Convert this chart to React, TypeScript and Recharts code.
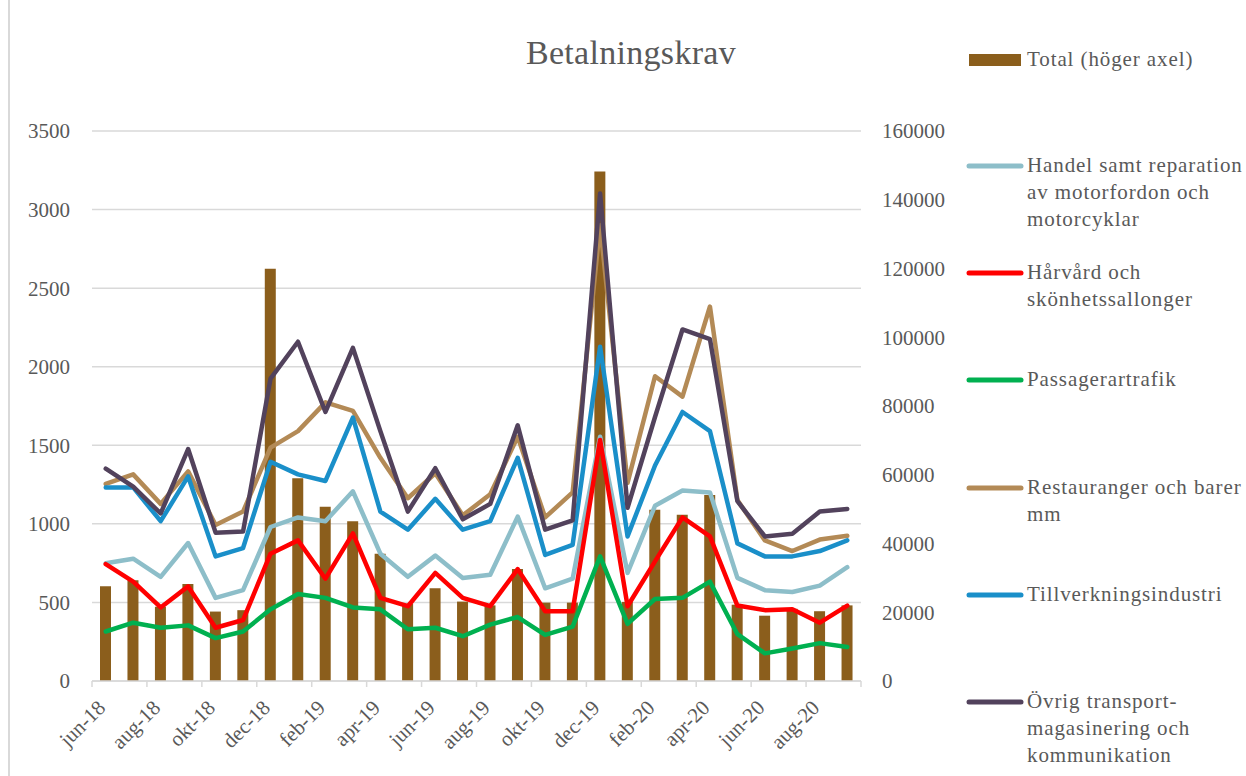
import React from "react";
import { ComposedChart, Bar, Line, XAxis, YAxis, CartesianGrid } from "recharts";

const months = ["jun-18","jul-18","aug-18","sep-18","okt-18","nov-18","dec-18","jan-19","feb-19","mar-19","apr-19","maj-19","jun-19","jul-19","aug-19","sep-19","okt-19","nov-19","dec-19","jan-20","feb-20","mar-20","apr-20","maj-20","jun-20","jul-20","aug-20","sep-20"];

const total = [27600, 29300, 21600, 28200, 20200, 20600, 119900, 59000, 50700, 46500, 37000, 22500, 27000, 23100, 22000, 32600, 22800, 22800, 148200, 23000, 49800, 48400, 54100, 22200, 19000, 21000, 20300, 22000];
const handel = [749, 778, 663, 878, 529, 578, 980, 1041, 1017, 1207, 810, 663, 798, 656, 676, 1046, 590, 651, 1554, 688, 1115, 1212, 1200, 656, 578, 566, 607, 724];
const harvard = [744, 632, 468, 602, 339, 388, 810, 895, 651, 939, 529, 476, 688, 529, 476, 712, 444, 444, 1534, 476, 761, 1041, 920, 480, 451, 456, 371, 480];
const passager = [315, 371, 339, 354, 273, 315, 456, 554, 529, 468, 456, 329, 339, 285, 359, 407, 293, 346, 793, 363, 522, 529, 632, 298, 176, 207, 241, 217];
const restaurang = [1254, 1315, 1127, 1334, 993, 1078, 1485, 1590, 1773, 1719, 1420, 1163, 1322, 1054, 1188, 1554, 1041, 1200, 2900, 1261, 1939, 1810, 2383, 1151, 895, 827, 900, 924];
const tillverkning = [1232, 1232, 1017, 1302, 793, 846, 1395, 1315, 1273, 1676, 1078, 963, 1159, 963, 1017, 1420, 802, 866, 2127, 920, 1371, 1712, 1590, 876, 793, 793, 827, 895];
const ovrig = [1351, 1237, 1066, 1476, 944, 951, 1924, 2159, 1712, 2120, 1590, 1078, 1354, 1029, 1127, 1627, 963, 1022, 3103, 1102, 1680, 2237, 2176, 1144, 920, 937, 1078, 1095];

const leftTicks = [0, 500, 1000, 1500, 2000, 2500, 3000, 3500];
const rightTicks = [0, 20000, 40000, 60000, 80000, 100000, 120000, 140000, 160000];

const title = "Betalningskrav";

const barSeries = { key: "total", name: "Total (höger axel)", color: "#8b5e1c", lines: ["Total (höger axel)"] };
const lineSeries = [
  { key: "handel", name: "Handel samt reparation av motorfordon och motorcyklar", color: "#8dbec9", lines: ["Handel samt reparation", "av motorfordon och", "motorcyklar"] },
  { key: "harvard", name: "Hårvård och skönhetssallonger", color: "#ff0000", lines: ["Hårvård och", "skönhetssallonger"] },
  { key: "passager", name: "Passagerartrafik", color: "#00b050", lines: ["Passagerartrafik"] },
  { key: "restaurang", name: "Restauranger och barer mm", color: "#b38a56", lines: ["Restauranger och barer", "mm"] },
  { key: "tillverkning", name: "Tillverkningsindustri", color: "#1a8fc9", lines: ["Tillverkningsindustri"] },
  { key: "ovrig", name: "Övrig transport-magasinering och kommunikation", color: "#52425c", lines: ["Övrig transport-", "magasinering och", "kommunikation"] },
];

const data = months.map((m, i) => ({
  month: m,
  total: total[i],
  handel: handel[i],
  harvard: harvard[i],
  passager: passager[i],
  restaurang: restaurang[i],
  tillverkning: tillverkning[i],
  ovrig: ovrig[i],
}));

const W = 1246;
const H = 776;
const PLOT_LEFT = 92;
const PLOT_RIGHT = 861;
const PLOT_TOP = 131;
const PLOT_BOTTOM = 681;
const RIGHT_AXIS_W = 100;
const FONT = "'Liberation Serif', 'DejaVu Serif', serif";
const TEXT = "#595959";
const GRID = "#d9d9d9";

const XTick = (props: any) => {
  const { x, index, payload } = props;
  const bw = (PLOT_RIGHT - PLOT_LEFT) / months.length;
  const y0 = PLOT_BOTTOM;
  const els: any[] = [];
  if (index % 2 === 0) {
    const lx = x - bw / 2;
    els.push(<line key="t" x1={lx} x2={lx} y1={y0} y2={y0 + 6} stroke={GRID} strokeWidth={1.5} />);
    const tx = x - 4;
    const ty = y0 + 23;
    els.push(
      <text key="l" x={tx} y={ty} transform={`rotate(-45, ${tx}, ${ty})`} textAnchor="end" dominantBaseline="central"
        fontFamily={FONT} fontSize={21} fill={TEXT}>
        {payload.value}
      </text>
    );
  }
  if (index === months.length - 1) {
    const rx = x + bw / 2;
    els.push(<line key="e" x1={rx} x2={rx} y1={y0} y2={y0 + 6} stroke={GRID} strokeWidth={1.5} />);
  }
  return <g>{els}</g>;
};

const legendItems = [barSeries, ...lineSeries];
const legendY = [60, 166, 273, 380, 488, 595, 702];

export default function App() {
  return (
    <div style={{ position: "absolute", left: 0, top: 0, width: W, height: H, background: "#fff", overflow: "hidden" }}>
      <div style={{ position: "absolute", left: 8, top: 0, width: 1.5, height: H, background: GRID }} />
      <div style={{ position: "absolute", left: 331, width: 600, top: 33, textAlign: "center", fontFamily: FONT, fontSize: 34, letterSpacing: 0.3, color: TEXT, lineHeight: "40px" }}>
        {title}
      </div>
      <ComposedChart
        width={W}
        height={H}
        data={data}
        margin={{ top: PLOT_TOP, right: W - PLOT_RIGHT - RIGHT_AXIS_W, bottom: 0, left: 0 }}
        barCategoryGap={0}
      >
        <CartesianGrid yAxisId="left" vertical={false} stroke={GRID} strokeWidth={1.5} />
        <XAxis
          dataKey="month"
          interval={0}
          height={H - PLOT_BOTTOM}
          tickLine={false}
          axisLine={{ stroke: GRID, strokeWidth: 1.5 }}
          tick={<XTick />}
        />
        <YAxis
          yAxisId="left"
          width={PLOT_LEFT}
          domain={[0, 3500]}
          ticks={leftTicks}
          axisLine={false}
          tickLine={false}
          tickSize={0}
          tickMargin={22}
          tick={{ fontFamily: FONT, fontSize: 21, fill: TEXT }}
        />
        <YAxis
          yAxisId="right"
          orientation="right"
          width={RIGHT_AXIS_W}
          domain={[0, 160000]}
          ticks={rightTicks}
          axisLine={false}
          tickLine={false}
          tickSize={0}
          tickMargin={21}
          tick={{ fontFamily: FONT, fontSize: 21, fill: TEXT, textAnchor: "start" }}
        />
        <Bar yAxisId="right" dataKey={barSeries.key} name={barSeries.name} fill={barSeries.color} barSize={11} isAnimationActive={false} />
        {lineSeries.map((s) => (
          <Line
            key={s.key}
            yAxisId="left"
            type="linear"
            dataKey={s.key}
            name={s.name}
            stroke={s.color}
            strokeWidth={4.5}
            strokeLinejoin="round"
            strokeLinecap="round"
            dot={false}
            activeDot={false}
            isAnimationActive={false}
          />
        ))}
      </ComposedChart>
      {legendItems.map((it, i) => (
        <div key={it.key} style={{ position: "absolute", left: 966, top: legendY[i] - 14 }}>
          <svg width={60} height={28} style={{ position: "absolute", left: 0, top: 0 }}>
            {i === 0 ? (
              <rect x={3} y={8} width={52} height={12} fill={it.color} />
            ) : (
              <line x1={3} x2={55} y1={14} y2={14} stroke={it.color} strokeWidth={5} strokeLinecap="round" />
            )}
          </svg>
          <div style={{ position: "absolute", left: 61, top: 0, whiteSpace: "nowrap", fontFamily: FONT, fontSize: 21, letterSpacing: 0.9, lineHeight: "27px", color: TEXT }}>
            {it.lines.map((l, j) => (
              <div key={j}>{l}</div>
            ))}
          </div>
        </div>
      ))}
    </div>
  );
}
